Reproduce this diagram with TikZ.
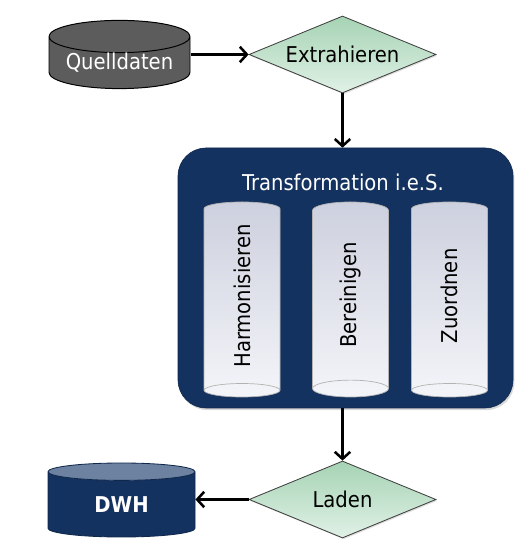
\documentclass[tikz,border=0pt]{standalone}
\usepackage{fontspec}
\setmainfont{DejaVu Sans Condensed}
\usepackage{xcolor}
\usepackage{graphicx}
\usepackage{tikz}
\usetikzlibrary{arrows.meta}
\usetikzlibrary{shapes.geometric, calc, shadows}

\definecolor{navy}{RGB}{20,50,95}
\definecolor{dwhdeckel}{RGB}{108,130,160}
\definecolor{quellgrau}{RGB}{92,92,92}
\definecolor{gruenoben}{RGB}{166,211,180}
\definecolor{gruenunten}{RGB}{224,241,230}
\definecolor{saeuleoben}{RGB}{205,208,222}
\definecolor{saeuleunten}{RGB}{244,245,249}

\begin{document}
\begin{tikzpicture}[
    font=\fontsize{15.5}{18}\selectfont,
    pfeil/.style={-{Straight Barb[length=5pt,width=11pt]}, line width=1.8pt},
    raute/.style={diamond, draw=black!75, line width=0.6pt, top color=gruenoben, bottom color=gruenunten,
        minimum width=4.675cm, minimum height=1.925cm, aspect=2.43, inner sep=0pt,
        drop shadow={opacity=0.25, shadow xshift=0.8pt, shadow yshift=-1pt}},
    tonne/.style={cylinder, shape border rotate=90, cylinder uses custom fill, inner sep=0pt, anchor=shape center},
    saeule/.style={cylinder, shape border rotate=270, draw=black!30, line width=0.5pt,
        top color=saeuleoben, bottom color=saeuleunten, minimum width=1.9cm, minimum height=4.875cm,
        aspect=0.8, inner sep=0pt, anchor=shape center}
]
    \useasboundingbox (0,0) rectangle (13.15,13.55);

    % Quelle und Extraktion
    \node[tonne, draw=black, line width=0.7pt, cylinder body fill=quellgrau, cylinder end fill=quellgrau,
        minimum width=3.525cm, minimum height=1.625cm, aspect=0.3, text=white] (quelle) at (2.9875,12.1875) {Quelldaten};
    \node[raute] (extra) at (8.5625,12.1875) {Extrahieren};

    % Transformation i.e.S.
    \node[draw=navy!80!black, fill=navy, rounded corners=0.7cm, minimum width=8.375cm, minimum height=6.5cm,
        drop shadow={opacity=0.3, shadow xshift=1pt, shadow yshift=-1.5pt}] (trafo) at (8.6375,6.6) {};
    \node[text=white] (titel) at (8.575,9.0) {Transformation i.e.S.};
    \node[saeule] (harm) at (6.05,6.0625) {\rotatebox{90}{Harmonisieren}};
    \node[saeule] (bereinig) at (8.7625,6.0625) {\rotatebox{90}{Bereinigen}};
    \node[saeule] (zuord) at (11.2375,6.0625) {\rotatebox{90}{Zuordnen}};

    % Laden ins DWH
    \node[raute] (laden) at (8.5625,1.0625) {Laden};
    \node[tonne, draw=navy!80!black, line width=0.6pt, cylinder body fill=navy, cylinder end fill=dwhdeckel,
        minimum width=3.675cm, minimum height=1.85cm, aspect=0.32, text=white, font=\fontsize{15.5}{18}\selectfont\bfseries] (dwh) at (3.0375,1.05) {DWH};

    % Pfeile
    \draw[pfeil] (quelle.east |- extra.west) -- (extra.west);
    \draw[pfeil] (extra.south) -- (extra.south |- trafo.north);
    \draw[pfeil] (laden.north |- trafo.south) -- (laden.north);
    \draw[pfeil] (laden.west) -- (laden.west -| dwh.east);
\end{tikzpicture}
\end{document}
